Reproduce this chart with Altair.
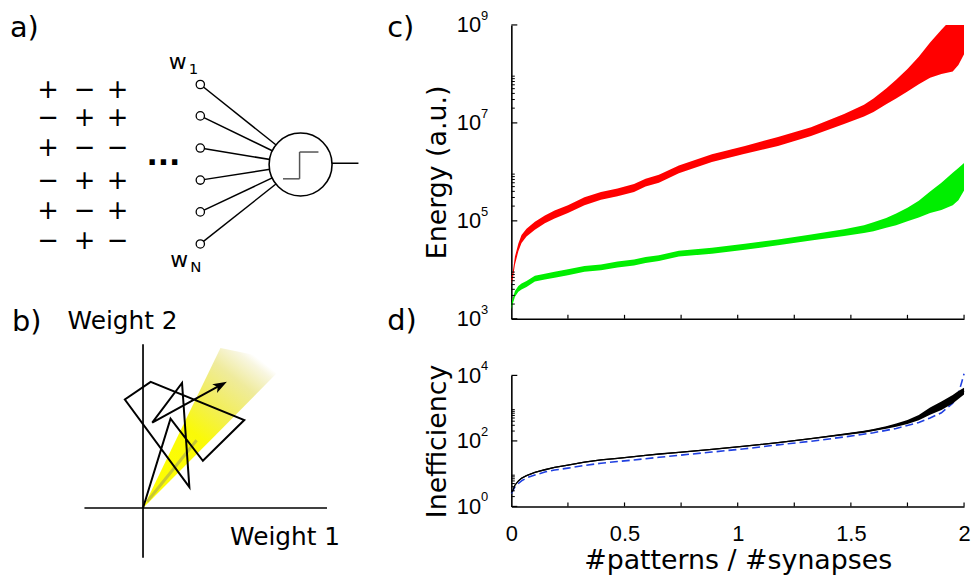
import altair as alt
import pandas as pd

# ---------------- data ----------------
# x positions (#patterns / #synapses) at which the curves were read
ratio = [0, 0.006, 0.016, 0.031, 0.045, 0.067, 0.104, 0.148, 0.191, 0.25,
         0.323, 0.396, 0.469, 0.542, 0.593, 0.652, 0.74, 0.886, 1.032, 1.178,
         1.324, 1.47, 1.558, 1.6, 1.656, 1.7, 1.75, 1.8, 1.85, 1.9,
         1.95, 1.975, 2.0]
# panel c, red curve: log10(energy) centre and half-width of the noisy band
red_log10 = [3.78, 3.88, 4.19, 4.46, 4.63, 4.76, 4.90, 5.03, 5.13, 5.24,
             5.40, 5.51, 5.58, 5.67, 5.78, 5.86, 6.05, 6.28, 6.45, 6.62,
             6.82, 7.08, 7.25, 7.36, 7.54, 7.69, 7.87, 8.07, 8.28, 8.45,
             8.60, 8.70, 8.85]
red_spread = [0.07, 0.07, 0.08, 0.08, 0.08, 0.08, 0.08, 0.08, 0.08, 0.08,
              0.08, 0.08, 0.08, 0.08, 0.08, 0.08, 0.08, 0.08, 0.08, 0.09,
              0.09, 0.10, 0.12, 0.14, 0.16, 0.19, 0.23, 0.28, 0.36, 0.45,
              0.55, 0.52, 0.45]
# panel c, green curve
green_log10 = [3.24, 3.36, 3.51, 3.61, 3.66, 3.71, 3.82, 3.86, 3.90, 3.95,
               4.02, 4.05, 4.11, 4.15, 4.20, 4.24, 4.33, 4.39, 4.47, 4.56,
               4.66, 4.76, 4.83, 4.88, 4.96, 5.03, 5.13, 5.24, 5.38, 5.50,
               5.65, 5.75, 5.90]
green_spread = [0.06, 0.06, 0.06, 0.06, 0.06, 0.06, 0.06, 0.06, 0.06, 0.06,
                0.06, 0.06, 0.06, 0.06, 0.06, 0.06, 0.06, 0.06, 0.06, 0.06,
                0.06, 0.07, 0.08, 0.09, 0.10, 0.12, 0.14, 0.17, 0.22, 0.28,
                0.33, 0.33, 0.28]
# panel d, black (measured inefficiency)
ineff_log10 = [0.43, 0.48, 0.65, 0.78, 0.86, 0.94, 1.04, 1.12, 1.19, 1.26,
               1.35, 1.42, 1.47, 1.52, 1.56, 1.60, 1.65, 1.74, 1.84, 1.95,
               2.07, 2.20, 2.28, 2.33, 2.41, 2.48, 2.58, 2.71, 2.91, 3.07,
               3.27, 3.40, 3.52]
ineff_spread = [0.02, 0.02, 0.02, 0.02, 0.02, 0.02, 0.02, 0.02, 0.02, 0.02,
                0.02, 0.02, 0.02, 0.02, 0.02, 0.02, 0.02, 0.02, 0.02, 0.02,
                0.02, 0.025, 0.03, 0.03, 0.04, 0.05, 0.06, 0.08, 0.11, 0.13,
                0.13, 0.12, 0.10]
# panel d, blue dashed (theory)
theory_ratio = [0, 0.016, 0.031, 0.045, 0.067, 0.104, 0.148, 0.191, 0.25, 0.323,
                0.396, 0.469, 0.542, 0.652, 0.74, 0.886, 1.032, 1.178, 1.324, 1.47,
                1.6, 1.7, 1.8, 1.85, 1.9, 1.95, 1.975, 1.99, 2.0]
theory_log10 = [0.40, 0.60, 0.70, 0.78, 0.87, 0.96, 1.05, 1.11, 1.17, 1.25,
                1.32, 1.37, 1.42, 1.50, 1.56, 1.66, 1.76, 1.88, 1.99, 2.12,
                2.25, 2.38, 2.56, 2.70, 2.86, 3.15, 3.45, 3.80, 4.05]

# axis ticks / labels
c_major = [1e3, 1e5, 1e7, 1e9]
c_exponents = ["3", "5", "7", "9"]
c_minor = [m * 10 ** e for e in (3, 5, 7) for m in range(2, 10)]
d_major = [1, 1e2, 1e4]
d_exponents = ["0", "2", "4"]
d_minor = [m * 10 ** e for e in (0, 2) for m in range(2, 10)]
x_tick_vals = [0.25, 0.5, 0.75, 1.0, 1.25, 1.5, 1.75, 2.0]
x_label_vals = [0, 0.5, 1, 1.5, 2]

# panel a) content
sign_rows = ["+−+", "−++", "+−−", "−++", "+−+", "−+−"]

# ---------------- tables ----------------
curves = pd.DataFrame({"ratio": ratio})
curves["red_lo"] = [10 ** (c - s) for c, s in zip(red_log10, red_spread)]
curves["red_hi"] = [10 ** (c + s) for c, s in zip(red_log10, red_spread)]
curves["green_lo"] = [10 ** (c - s) for c, s in zip(green_log10, green_spread)]
curves["green_hi"] = [10 ** (c + s) for c, s in zip(green_log10, green_spread)]
curves["ineff"] = [10 ** c for c in ineff_log10]
curves["ineff_lo"] = [10 ** (c - s) for c, s in zip(ineff_log10, ineff_spread)]
curves["ineff_hi"] = [10 ** (c + s) for c, s in zip(ineff_log10, ineff_spread)]
theory = pd.DataFrame({"ratio": theory_ratio, "val": [10 ** v for v in theory_log10]})

# ---------------- layout ----------------
PLOT_W, C_H, D_H, GAP = 456, 296, 132, 57
LEFT_W, SPACING, TOP, LEFT_H = 496, 11, 22.7, 545

BLACK = "black"
TITLE_FONT = "DejaVu Sans"
LABEL_FONT = "Liberation Sans"

# ---------------- left column: diagrams a) and b) ----------------
XS = alt.Scale(domain=[8, 8 + LEFT_W], nice=False, zero=False)
YS = alt.Scale(domain=[TOP, TOP + LEFT_H], nice=False, zero=False, reverse=True)


def seg_layer(df, color=BLACK, width=1.5, **kw):
    return alt.Chart(df).mark_rule(color=color, strokeWidth=width, **kw).encode(
        x=alt.X("x1:Q", scale=XS, axis=None), x2="x2:Q",
        y=alt.Y("y1:Q", scale=YS, axis=None), y2="y2:Q")


def text_layer(df, size, font=TITLE_FONT, align="left", baseline="alphabetic", weight="normal"):
    return alt.Chart(df).mark_text(font=font, fontSize=size, align=align, baseline=baseline,
                                   fontWeight=weight, color=BLACK).encode(
        x=alt.X("x:Q", scale=XS, axis=None), y=alt.Y("y:Q", scale=YS, axis=None), text="t:N")


# geometry of the drawings (page pixels)
sign_col_x = [48.3, 85, 118.3]
sign_row_y = [88.3, 116.7, 146.7, 180, 210, 240]
node_x = 201.7
node_y = [82.7, 114.3, 146.7, 179, 211, 243.3]
neuron = (302.7, 163.3)

signs = pd.DataFrame([{"x": sign_col_x[j], "y": sign_row_y[i], "t": ch}
                      for i, row in enumerate(sign_rows) for j, ch in enumerate(row)])
connectors = pd.DataFrame([{"x1": node_x, "y1": y, "x2": neuron[0], "y2": neuron[1]} for y in node_y])
nodes = pd.DataFrame({"x": [node_x] * len(node_y), "y": node_y})
soma = pd.DataFrame({"x": [neuron[0]], "y": [neuron[1]]})
step = pd.DataFrame({"x1": [285, 301.7, 301.7], "y1": [177.7, 177.7, 150.7],
                     "x2": [301.7, 301.7, 320.7], "y2": [177.7, 150.7, 150.7]})
output = pd.DataFrame({"x1": [334.3], "y1": [162], "x2": [361], "y2": [162]})

wedge = pd.DataFrame({"x": [144, 222, 290], "y": [509.3, 348, 362], "y2": [509.3, 431, 362]})
shadow = pd.DataFrame({"x1": [148], "y1": [503], "x2": [198], "y2": [441]})
b_axes = pd.DataFrame({"x1": [144, 85], "y1": [344.3, 509.3], "x2": [144, 329.3], "y2": [559.3, 509.3]})
path = pd.DataFrame({"x": [144, 171.7, 204.3, 246, 151.7, 125.7, 190.7, 183.3, 153.3, 222],
                     "y": [509.3, 419.3, 461.7, 420.7, 382.3, 400, 488.3, 383.3, 423.3, 385.5]})
path["i"] = range(len(path))
arrow = pd.DataFrame({"x": [222.3], "y": [385.6]})

wedge_fill = alt.Gradient(
    gradient="linear", x1=0, y1=1, x2=0.7, y2=0,
    stops=[alt.GradientStop(offset=0, color="#ffff00"),
           alt.GradientStop(offset=0.48, color="#fafa08"),
           alt.GradientStop(offset=0.66, color="#f2ee58"),
           alt.GradientStop(offset=0.84, color="#efeb9c"),
           alt.GradientStop(offset=0.96, color="#f8f6e0"),
           alt.GradientStop(offset=1, color="#ffffff")])

left_layers = [
    alt.Chart(wedge).mark_area(color=wedge_fill, opacity=1).encode(
        x=alt.X("x:Q", scale=XS, axis=None), y=alt.Y("y:Q", scale=YS, axis=None), y2="y2:Q"),
    seg_layer(shadow, color="#8a8a6a", width=3, opacity=0.45),
    seg_layer(b_axes, width=1.7),
    alt.Chart(path).mark_line(color=BLACK, strokeWidth=2, strokeJoin="miter").encode(
        x=alt.X("x:Q", scale=XS, axis=None), y=alt.Y("y:Q", scale=YS, axis=None), order="i:Q"),
    alt.Chart(arrow).mark_point(shape="M0,-1L0.7,1L0,0.5L-0.7,1Z", filled=True, color=BLACK,
                                size=200, angle=61, opacity=1).encode(
        x=alt.X("x:Q", scale=XS, axis=None), y=alt.Y("y:Q", scale=YS, axis=None)),
    seg_layer(connectors, width=1.5),
    alt.Chart(nodes).mark_circle(color="white", stroke=BLACK, strokeWidth=1.3, size=70, opacity=1).encode(
        x=alt.X("x:Q", scale=XS, axis=None), y=alt.Y("y:Q", scale=YS, axis=None)),
    alt.Chart(soma).mark_circle(color="white", stroke=BLACK, strokeWidth=1.6, size=4020, opacity=1).encode(
        x=alt.X("x:Q", scale=XS, axis=None), y=alt.Y("y:Q", scale=YS, axis=None)),
    seg_layer(step, color="#555555", width=1.5),
    seg_layer(output, width=1.5),
    text_layer(signs, 26, baseline="middle", align="center"),
    text_layer(pd.DataFrame({"x": [164.5], "y": [163.5], "t": ["..."]}), 30, align="center", weight="bold"),
    text_layer(pd.DataFrame({"x": [170, 171.5], "y": [66.7, 266.7], "t": ["w", "w"]}), 22),
    text_layer(pd.DataFrame({"x": [190, 191.5], "y": [71.7, 271.7], "t": ["1", "N"]}), 15),
    text_layer(pd.DataFrame({"x": [10, 12, 390, 390], "y": [35, 331, 35, 330],
                             "t": ["a)", "b)", "c)", "d)"]}), 29),
    text_layer(pd.DataFrame({"x": [68, 231.7], "y": [329.3, 547], "t": ["Weight 2", "Weight 1"]}), 25),
]
left = alt.layer(*left_layers).properties(width=LEFT_W, height=LEFT_H)

# ---------------- right column: panels c) and d) ----------------
XC = alt.Scale(domain=[0, 2], nice=False, zero=False)
YC = alt.Scale(type="log", domain=[1e3, 1e9], nice=False)
YD = alt.Scale(type="log", domain=[1, 1e4], nice=False)

axis_common = dict(ticks=False, grid=False, domainColor=BLACK, domainWidth=1.6,
                   labelFont=LABEL_FONT, labelFontSize=22, labelColor=BLACK,
                   titleFont=TITLE_FONT, titleFontSize=27, titleFontWeight="normal", titleColor=BLACK)

ax_x_c = alt.Axis(labels=False, title=None, ticks=False, grid=False, domainColor=BLACK, domainWidth=1.6)
ax_x_d = alt.Axis(values=x_label_vals, format="~g", labelFlush=False, labelPadding=17,
                  title="#patterns / #synapses", titlePadding=4, **axis_common)
ax_y_c = alt.Axis(values=c_major, labelPadding=31, titlePadding=5, title="Energy (a.u.)",
                  labelExpr="'10'", **axis_common)
ax_y_d = alt.Axis(values=d_major, labelPadding=31, titlePadding=5, title="Inefficiency",
                  labelExpr="'10'", **axis_common)


def xq(field, axis):
    return alt.X(field, scale=XC, axis=axis)


def tick_layers(major, exps, minor, yscale, xaxis, yaxis, h):
    return [
        alt.Chart(pd.DataFrame({"v": major})).mark_rule(color=BLACK, strokeWidth=1.2).encode(
            y=alt.Y("v:Q", scale=yscale, axis=yaxis), x=alt.value(0), x2=alt.value(6)),
        alt.Chart(pd.DataFrame({"v": minor})).mark_rule(color=BLACK, strokeWidth=1).encode(
            y=alt.Y("v:Q", scale=yscale, axis=yaxis), x=alt.value(0), x2=alt.value(3.5)),
        alt.Chart(pd.DataFrame({"t": x_tick_vals})).mark_rule(color=BLACK, strokeWidth=1.2).encode(
            x=xq("t:Q", xaxis), y=alt.value(h), y2=alt.value(h - 4)),
        # exponents of the 10^n tick labels
        alt.Chart(pd.DataFrame({"v": major, "e": exps})).mark_text(
            font=LABEL_FONT, fontSize=13, align="left", baseline="middle", dy=-9, color=BLACK).encode(
            y=alt.Y("v:Q", scale=yscale, axis=yaxis), x=alt.value(-30.5), text="e:N"),
    ]


panel_c = alt.layer(
    alt.Chart(curves).mark_area(color="#ff0000", clip=True, opacity=1).encode(
        x=xq("ratio:Q", ax_x_c), y=alt.Y("red_lo:Q", scale=YC, axis=ax_y_c), y2="red_hi:Q"),
    alt.Chart(curves).mark_area(color="#00ee00", clip=True, opacity=1).encode(
        x=xq("ratio:Q", ax_x_c), y=alt.Y("green_lo:Q", scale=YC, axis=ax_y_c), y2="green_hi:Q"),
    *tick_layers(c_major, c_exponents, c_minor, YC, ax_x_c, ax_y_c, C_H),
).properties(width=PLOT_W, height=C_H)

panel_d = alt.layer(
    alt.Chart(theory).mark_line(color="#1f3fe0", strokeWidth=1.6, strokeDash=[8, 4]).encode(
        x=xq("ratio:Q", ax_x_d), y=alt.Y("val:Q", scale=YD, axis=ax_y_d)),
    alt.Chart(curves).mark_area(color=BLACK, opacity=1).encode(
        x=xq("ratio:Q", ax_x_d), y=alt.Y("ineff_lo:Q", scale=YD, axis=ax_y_d), y2="ineff_hi:Q"),
    alt.Chart(curves).mark_line(color=BLACK, strokeWidth=1.3).encode(
        x=xq("ratio:Q", ax_x_d), y=alt.Y("ineff:Q", scale=YD, axis=ax_y_d)),
    *tick_layers(d_major, d_exponents, d_minor, YD, ax_x_d, ax_y_d, D_H),
).properties(width=PLOT_W, height=D_H)

right = alt.vconcat(panel_c, panel_d, spacing=GAP, bounds="flush")

chart = alt.hconcat(left, right, spacing=SPACING, bounds="flush").properties(
    padding={"left": 0, "top": 0, "right": 0, "bottom": 0}
).configure_view(stroke=None)

chart.save("out.html", embed_options={"renderer": "svg", "actions": False})
